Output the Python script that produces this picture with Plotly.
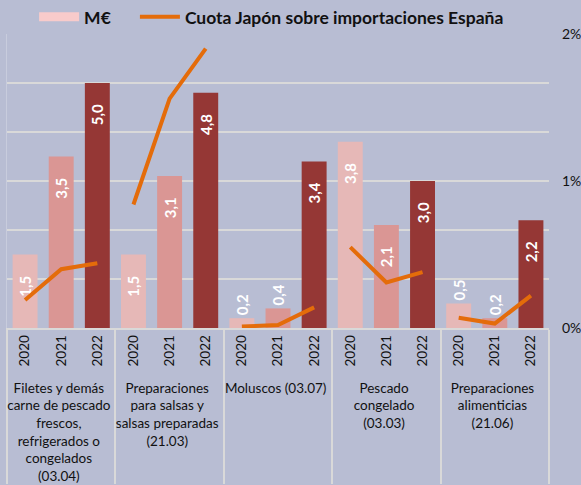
import plotly.graph_objects as go
from plotly.subplots import make_subplots

groups = [
    "Filetes y demás<br>carne de pescado<br>frescos,<br>refrigerados o<br>congelados<br>(03.04)",
    "Preparaciones<br>para salsas y<br>salsas preparadas<br>(21.03)",
    "Moluscos (03.07)",
    "Pescado<br>congelado<br>(03.03)",
    "Preparaciones<br>alimenticias<br>(21.06)",
]
years = ["2020", "2021", "2022"]

meur = [
    [1.5, 3.5, 5.0],
    [1.5, 3.1, 4.8],
    [0.2, 0.4, 3.4],
    [3.8, 2.1, 3.0],
    [0.5, 0.2, 2.2],
]
cuota_pct = [
    [0.19, 0.40, 0.44],
    [0.84, 1.56, 1.90],
    [0.01, 0.02, 0.14],
    [0.55, 0.31, 0.38],
    [0.07, 0.03, 0.22],
]

year_colors = {"2020": "#E6B8B7", "2021": "#DA9694", "2022": "#953735"}
line_color = "#E46C0A"
bg = "#B8BDD3"
font_family = "Lato, 'Open Sans', sans-serif"
NB = "\u00a0"

fig = make_subplots(specs=[[{"secondary_y": True}]])

xg, xy, yv, cols, texts, tpos = [], [], [], [], [], []
for g, vals in zip(groups, meur):
    for yr, v in zip(years, vals):
        xg.append(g)
        xy.append(yr)
        yv.append(v)
        cols.append(year_colors[yr])
        lbl = f"{v:.1f}".replace(".", ",")
        if v >= 1:
            texts.append(lbl + NB * 5)
            tpos.append("inside")
        else:
            texts.append(lbl)
            tpos.append("outside")

fig.add_trace(go.Bar(
    x=[xg, xy], y=yv, marker=dict(color=cols, line=dict(width=0)),
    text=texts, textposition=tpos, textangle=-90, insidetextanchor="end",
    textfont=dict(color="white", size=15, family=font_family, weight="bold"),
    cliponaxis=False, showlegend=False, hoverinfo="skip",
), secondary_y=False)

# legend swatch for M€
fig.add_trace(go.Scatter(
    x=[[groups[0]], [years[0]]], y=[None], mode="lines",
    line=dict(color="#F8CBCB", width=9), name="M€", showlegend=True,
    legend="legend",
), secondary_y=False)

for i, (g, vals) in enumerate(zip(groups, cuota_pct)):
    fig.add_trace(go.Scatter(
        x=[[g] * 3, years], y=vals, mode="lines",
        line=dict(color=line_color, width=4),
        name="Cuota Japón sobre importaciones España",
        legendgroup="cuota", showlegend=(i == 0), hoverinfo="skip",
        legend="legend2",
    ), secondary_y=True)

legend_common = dict(
    orientation="h", xanchor="left", y=1.058, yanchor="middle",
    font=dict(size=17.5, weight="bold", color="#111111"),
    bgcolor="rgba(0,0,0,0)", itemwidth=40,
)

fig.update_layout(
    width=581, height=485,
    paper_bgcolor=bg, plot_bgcolor=bg,
    margin=dict(l=7, r=32, t=34, b=157, autoexpand=False),
    barmode="overlay", bargap=0.31,
    font=dict(family=font_family, color="#111111", size=14),
    legend=dict(x=0.05, **legend_common),
    legend2=dict(x=0.236, **legend_common),
)
fig.update_xaxes(
    type="multicategory", domain=[0, 1], tickangle=-90, showline=True,
    linecolor="#D9D9D9", linewidth=1.5,
    showdividers=True, dividercolor="#D9D9D9", dividerwidth=1.5,
    tickfont=dict(size=13.5, color="#111111"), ticks="",
)
fig.update_yaxes(
    range=[0, 6], dtick=1, showticklabels=False, showgrid=True,
    gridcolor="#D9D9D9", gridwidth=1.5, zeroline=False,
    showline=True, linecolor="#C8CCDD", linewidth=1,
    secondary_y=False,
)
fig.update_yaxes(
    range=[0, 2], dtick=1, ticksuffix="%", showgrid=False, zeroline=False,
    tickfont=dict(size=14, color="#111111"), ticklabelstandoff=12,
    secondary_y=True,
)

fig.write_html(
    "out.html",
    config={"displayModeBar": False},
    post_script="document.body.style.margin='0';document.body.style.background='#B8BDD3';",
)
